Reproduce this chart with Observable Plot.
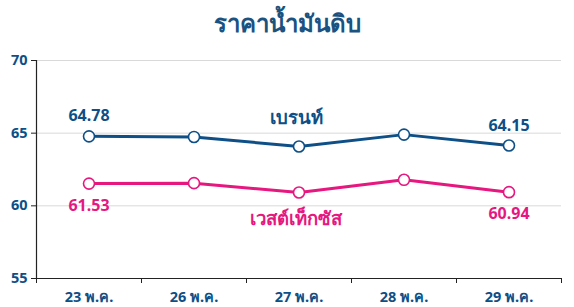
<!DOCTYPE html>
<html><head><meta charset="utf-8">
<script src="https://cdn.jsdelivr.net/npm/d3@7"></script>
<script src="https://cdn.jsdelivr.net/npm/@observablehq/plot@0.6"></script>
<style>
body{margin:0;background:#fff;font-family:"Noto Sans",Tahoma,sans-serif;}
#title{height:45px;line-height:46px;text-align:center;font-size:24px;font-weight:bold;color:#1a5280;}
</style></head>
<body>
<div id="title">ราคาน้ำมันดิบ</div>
<div id="chart"></div>
<script>
const dates = ["23 พ.ค.", "26 พ.ค.", "27 พ.ค.", "28 พ.ค.", "29 พ.ค."];
const brent = [64.78, 64.74, 64.08, 64.90, 64.15];
const wti = [61.53, 61.56, 60.92, 61.79, 60.94];
const seriesNames = ["เบรนท์", "เวสต์เท็กซัส"];
const yTicks = [55, 60, 65, 70];

const blue = "#0d4f86", pink = "#e6177f";
const rows = (vals, name) => vals.map((v, i) => ({i: i + 0.5, date: dates[i], v, name}));
const B = rows(brent, seriesNames[0]);
const W = rows(wti, seriesNames[1]);
const bounds = d3.range(dates.length + 1);
const centers = dates.map((d, i) => i + 0.5);
const last = dates.length - 1;

const chart = Plot.plot({
  width: 574, height: 262,
  marginTop: 15, marginBottom: 29, marginLeft: 36, marginRight: 13,
  style: {fontFamily: '"Noto Sans",Tahoma,sans-serif', overflow: "visible"},
  x: {domain: [0, dates.length]},
  y: {domain: [55, 70]},
  marks: [
    Plot.gridY([60, 65, 70], {stroke: "#d9d9d9", strokeOpacity: 1}),
    Plot.ruleY([55], {stroke: "#222", strokeWidth: 1.2}),
    Plot.ruleX([0], {stroke: "#222", strokeWidth: 1.2}),
    Plot.axisY({ticks: yTicks, tickSize: 5, tickPadding: 4, fontSize: 14.5, fontWeight: "bold", fill: blue, stroke: "#222", label: null}),
    Plot.axisX({ticks: bounds, tickSize: 5, tickFormat: () => "", stroke: "#222", label: null}),
    Plot.axisX({ticks: centers, tickSize: 0, tickPadding: 13, tickFormat: (d) => dates[d - 0.5], fontSize: 14.5, fontWeight: "bold", fill: blue, label: null}),
    Plot.line(B, {x: "i", y: "v", stroke: blue, strokeWidth: 3}),
    Plot.line(W, {x: "i", y: "v", stroke: pink, strokeWidth: 3}),
    Plot.dot(B, {x: "i", y: "v", r: 5.5, fill: "white", stroke: blue, strokeWidth: 1.6}),
    Plot.dot(W, {x: "i", y: "v", r: 5.5, fill: "white", stroke: pink, strokeWidth: 1.6}),
    Plot.text([B[0], B[last]], {x: "i", y: "v", text: (d) => d.v.toFixed(2), dy: -20, fill: blue, fontSize: 16, fontWeight: "bold"}),
    Plot.text([W[0], W[last]], {x: "i", y: "v", text: (d) => d.v.toFixed(2), dy: 22, fill: pink, fontSize: 16, fontWeight: "bold"}),
    Plot.text([B[2]], {x: "i", y: "v", text: "name", dy: -28, dx: -3, fill: blue, fontSize: 18.5, fontWeight: "bold"}),
    Plot.text([W[2]], {x: "i", y: "v", text: "name", dy: 27, dx: -3, fill: pink, fontSize: 18.5, fontWeight: "bold"})
  ]
});
document.getElementById("chart").appendChild(chart);
</script>
</body></html>
